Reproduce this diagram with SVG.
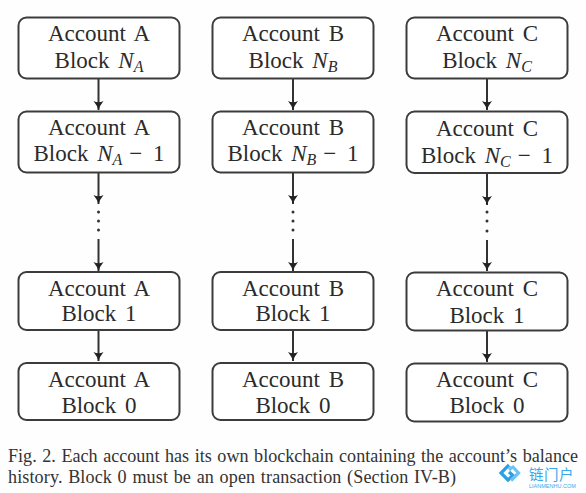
<svg xmlns="http://www.w3.org/2000/svg" width="586" height="493" viewBox="0 0 586 493">
<defs>
<marker id="ah" markerUnits="userSpaceOnUse" markerWidth="12" markerHeight="12" refX="9" refY="6" orient="auto"><path d="M0 1 Q5 5 9 6 Q5 7 0 11 Q2.5 6 0 1Z" fill="#222"/></marker>
</defs>
<style>
text{font-family:"Liberation Serif","Times New Roman",serif;fill:#2b2b2b;font-size:23px;word-spacing:3px;text-anchor:middle}
rect.n{fill:#fff;stroke:#3c3c3c;stroke-width:2}
.c line{stroke:#333;stroke-width:2;marker-end:url(#ah)}
.c circle{fill:#333}
text.cap{font-size:18.1px;word-spacing:1px;text-anchor:start;fill:#333}
.m{font-style:italic}
.s{font-style:italic;font-size:16px}
</style>
<rect width="586" height="493" fill="#fefefe"/>
<g class="c" id="connectors">
<line x1="98.5" y1="78" x2="98.5" y2="110"/><line x1="98.5" y1="172" x2="98.5" y2="204"/><circle cx="98.5" cy="212" r="1.5"/><circle cx="98.5" cy="221" r="1.5"/><circle cx="98.5" cy="230" r="1.5"/><line x1="98.5" y1="239" x2="98.5" y2="271"/><line x1="98.5" y1="330" x2="98.5" y2="361"/>
<line x1="293" y1="78" x2="293" y2="110"/><line x1="293" y1="172" x2="293" y2="204"/><circle cx="293" cy="212" r="1.5"/><circle cx="293" cy="221" r="1.5"/><circle cx="293" cy="230" r="1.5"/><line x1="293" y1="239" x2="293" y2="271"/><line x1="293" y1="330" x2="293" y2="361"/>
<line x1="487" y1="78" x2="487" y2="110"/><line x1="487" y1="173" x2="487" y2="205"/><circle cx="487" cy="212" r="1.5"/><circle cx="487" cy="221" r="1.5"/><circle cx="487" cy="231" r="1.5"/><line x1="487" y1="240" x2="487" y2="271"/><line x1="487" y1="331" x2="487" y2="362"/>
</g>
<g id="a1"><rect class="n" x="18.5" y="17.5" width="161" height="61" rx="8"/><text x="99" y="41">Account A</text><text x="99" y="68">Block <tspan class="m">N</tspan><tspan class="s" dy="4">A</tspan></text></g>
<g id="a2"><rect class="n" x="18.5" y="111.5" width="161" height="61" rx="8"/><text x="99" y="135">Account A</text><text x="99" y="161">Block <tspan class="m">N</tspan><tspan class="s" dy="4">A</tspan><tspan dy="-4" dx="7">− </tspan><tspan dx="2">1</tspan></text></g>
<g id="a3"><rect class="n" x="18.5" y="272" width="161" height="58" rx="8"/><text x="99" y="296">Account A</text><text x="99" y="321">Block 1</text></g>
<g id="a4"><rect class="n" x="18.5" y="363" width="161" height="57" rx="8"/><text x="99" y="387">Account A</text><text x="99" y="413">Block 0</text></g>
<g id="b1"><rect class="n" x="212.5" y="17.5" width="161" height="61" rx="8"/><text x="293" y="41">Account B</text><text x="293" y="68">Block <tspan class="m">N</tspan><tspan class="s" dy="4">B</tspan></text></g>
<g id="b2"><rect class="n" x="212.5" y="111.5" width="161" height="61" rx="8"/><text x="293" y="135">Account B</text><text x="293" y="161">Block <tspan class="m">N</tspan><tspan class="s" dy="4">B</tspan><tspan dy="-4" dx="7">− </tspan><tspan dx="2">1</tspan></text></g>
<g id="b3"><rect class="n" x="212.5" y="272" width="161" height="58" rx="8"/><text x="293" y="296">Account B</text><text x="293" y="321">Block 1</text></g>
<g id="b4"><rect class="n" x="212.5" y="363" width="161" height="57" rx="8"/><text x="293" y="387">Account B</text><text x="293" y="413">Block 0</text></g>
<g id="c1"><rect class="n" x="406.5" y="17.5" width="161" height="61" rx="8"/><text x="487" y="41">Account C</text><text x="487" y="68">Block <tspan class="m">N</tspan><tspan class="s" dy="4">C</tspan></text></g>
<g id="c2"><rect class="n" x="406.5" y="111.5" width="161" height="61.5" rx="8"/><text x="487" y="136">Account C</text><text x="487" y="163">Block <tspan class="m">N</tspan><tspan class="s" dy="4">C</tspan><tspan dy="-4" dx="7">− </tspan><tspan dx="2">1</tspan></text></g>
<g id="c3"><rect class="n" x="406.5" y="272.5" width="161" height="58" rx="8"/><text x="487" y="296">Account C</text><text x="487" y="323">Block 1</text></g>
<g id="c4"><rect class="n" x="406.5" y="363.5" width="161" height="58" rx="8"/><text x="487" y="387">Account C</text><text x="487" y="413">Block 0</text></g>
<text class="cap" x="8" y="462" textLength="570" lengthAdjust="spacing">Fig. 2.  Each account has its own blockchain containing the account’s balance</text>
<text class="cap" x="8" y="483" textLength="448" lengthAdjust="spacing">history. Block 0 must be an open transaction (Section IV-B)</text>
<g id="watermark">
<path d="M509 465 L501 473 L508 480 L513 475.5 L509 472" fill="none" stroke="#2b9fe6" stroke-width="3.2"/>
<path d="M512 466 L518.5 473 L511 480.5 M509 470 L512 467" fill="none" stroke="#6cc4f2" stroke-width="3.2"/>
<text x="529" y="480" style="font-family:'Noto Sans CJK SC',sans-serif;font-size:14.5px;letter-spacing:.5px;word-spacing:0;text-anchor:start;fill:#3ba7ea">链门户</text>
<text x="529" y="487.5" style="font-family:'Liberation Sans',sans-serif;font-size:5.5px;word-spacing:0;text-anchor:start;fill:#3ba7ea">LIANMENHU.COM</text>
</g>
</svg>
